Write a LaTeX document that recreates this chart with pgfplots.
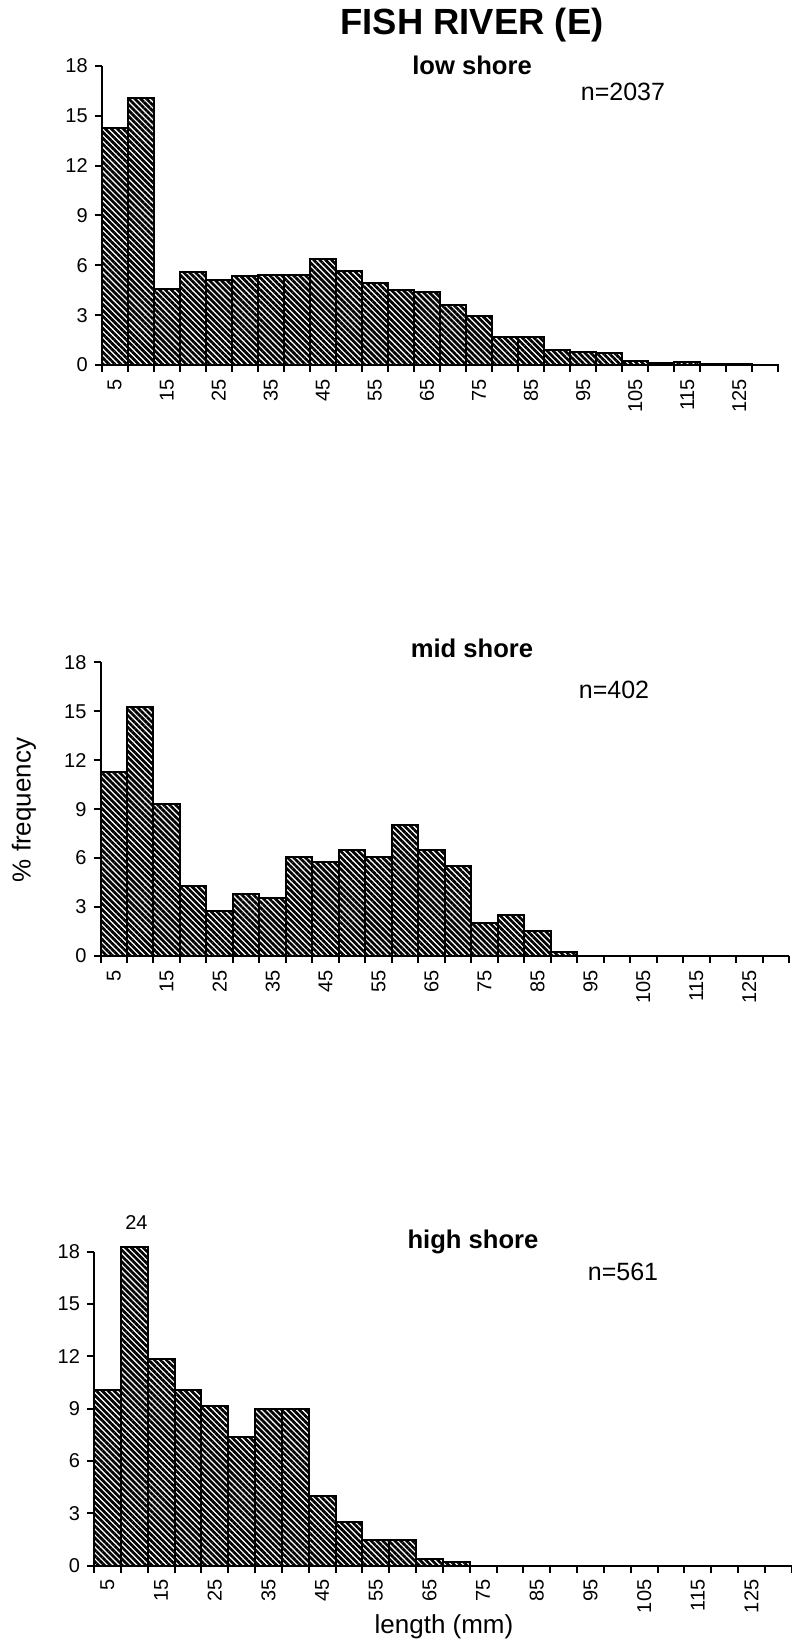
\documentclass[border=0pt]{standalone}
\usepackage{fontspec}
\setmainfont{Liberation Sans}
\usepackage{pgfplots}
\pgfplotsset{compat=1.18}
\usetikzlibrary{patterns.meta}

\pgfplotsset{
  hist/.style={
    scale only axis, anchor=south west,
    axis lines=left, axis line style={-, line width=1bp},
    xmin=2.5, xmax=132.5, ymin=0, ymax=18,
    ytick={0,3,...,18},
    xtick={2.5,7.5,...,132.5}, xticklabels={},
    extra x ticks={5,15,...,125},
    extra x tick style={tick style={draw=none},
      xticklabel style={rotate=90, anchor=east}},
    tick align=outside, major tick length=3.5bp,
    tick style={line width=1bp, black},
    tick label style={font=\fontsize{10bp}{12bp}\selectfont},
    /pgf/number format/assume math mode=true,
    clip=false,
  },
  histbar/.style={ybar, bar width=5, bar shift=0pt, draw=black, line width=1bp,
    pattern={Lines[angle=-45,distance=2.1bp,line width=1.35bp]}},
}

\begin{document}
\begin{tikzpicture}
\useasboundingbox (0,0) rectangle (396bp,822.5bp);

% low shore
\begin{axis}[hist, at={(50.85bp,640bp)}, width=338.3bp, height=149.5bp]
\addplot[histbar] coordinates {
(5,14.25) (10,16.05) (15,4.56) (20,5.62) (25,5.12) (30,5.38) (35,5.44) (40,5.40)
(45,6.38) (50,5.68) (55,4.96) (60,4.52) (65,4.37) (70,3.61) (75,2.97) (80,1.67)
(85,1.67) (90,0.90) (95,0.76) (100,0.74) (105,0.24) (110,0.12) (115,0.16) (120,0.06)
(125,0.06) (130,0.02)};
\end{axis}

% mid shore
\begin{axis}[hist, at={(50.25bp,344.5bp)}, width=344.25bp, height=146.85bp]
\addplot[histbar] coordinates {
(5,11.25) (10,15.25) (15,9.3) (20,4.29) (25,2.78) (30,3.78) (35,3.58) (40,6.05)
(45,5.79) (50,6.52) (55,6.05) (60,8.0) (65,6.52) (70,5.54) (75,2.04) (80,2.54)
(85,1.53) (90,0.25) (95,0) (100,0) (105,0) (110,0) (115,0) (120,0) (125,0) (130,0)};
\end{axis}

% high shore
\begin{axis}[hist, at={(47bp,39.65bp)}, width=348.9bp, height=157bp]
\addplot[histbar, y filter/.expression={min(y,18.25)}] coordinates {
(5,10.07) (10,24) (15,11.85) (20,10.07) (25,9.15) (30,7.40) (35,9.0) (40,9.0)
(45,3.97) (50,2.48) (55,1.45) (60,1.45) (65,0.38) (70,0.23) (75,0) (80,0)
(85,0) (90,0) (95,0) (100,0) (105,0) (110,0) (115,0) (120,0) (125,0) (130,0)};
\node[font=\fontsize{10bp}{12bp}\selectfont] at (axis cs:10.4,19.7) {24};
\end{axis}

\node[font=\fontsize{18.2bp}{21bp}\selectfont\bfseries] at (236bp,810bp) {FISH RIVER (E)};
\node[font=\fontsize{12.8bp}{15bp}\selectfont\bfseries] at (236bp,790bp) {low shore};
\node[font=\fontsize{12.5bp}{15bp}\selectfont] at (311.5bp,776.5bp) {n=2037};
\node[font=\fontsize{12.8bp}{15bp}\selectfont\bfseries] at (236bp,498.5bp) {mid shore};
\node[font=\fontsize{12.5bp}{15bp}\selectfont] at (307bp,477.5bp) {n=402};
\node[font=\fontsize{12.8bp}{15bp}\selectfont\bfseries] at (236.5bp,201.5bp) {high shore};
\node[font=\fontsize{12.5bp}{15bp}\selectfont] at (311.5bp,186.5bp) {n=561};
\node[font=\fontsize{13bp}{15bp}\selectfont] at (222bp,9bp) {length (mm)};
\node[font=\fontsize{13bp}{15bp}\selectfont, rotate=90] at (12bp,417.5bp) {\% frequency};
\end{tikzpicture}
\end{document}
